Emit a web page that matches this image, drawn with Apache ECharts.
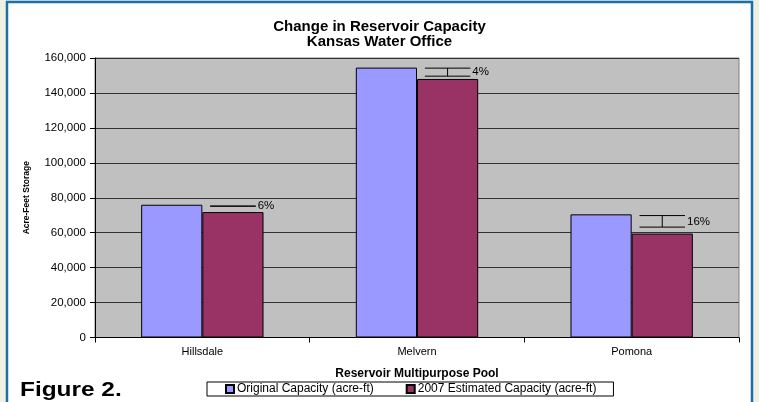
<!DOCTYPE html>
<html>
<head>
<meta charset="utf-8">
<script src="https://cdn.jsdelivr.net/npm/echarts@6/dist/echarts.min.js"></script>
<style>
html,body{margin:0;padding:0;background:#eef0e4;}
#chart{width:759px;height:402px;}
</style>
</head>
<body>
<div id="chart"></div>
<script>
const categories = ['Hillsdale', 'Melvern', 'Pomona'];
const originalCapacity = [76000, 154500, 70500];
const estimatedCapacity = [71800, 148000, 59500];
const changeTop = [75200, 154200, 69800];
const changeBottom = [75200, 149600, 63200];
const changeLabels = ['6%', '4%', '16%'];
const yTicks = { min: 0, max: 160000, interval: 20000 };

const FONT = '"Liberation Sans", Arial, sans-serif';
const chart = echarts.init(document.getElementById('chart'));

const changeData = categories.map((c, i) => [i, changeTop[i], changeBottom[i], changeLabels[i]]);

chart.setOption({
  backgroundColor: '#eef0e4',
  animation: false,
  graphic: [
    { type: 'rect', z: -10, shape: { x: 7, y: 2, width: 745, height: 430 },
      style: { fill: '#ffffff', stroke: '#1b6fa8', lineWidth: 2.5 } },
    { type: 'text', z: 10, x: 20, y: 390, scaleX: 1.22, originX: 0,
      style: { text: 'Figure 2.', font: 'bold 20px ' + FONT, fill: '#000', verticalAlign: 'middle', align: 'left' } }
  ],
  title: {
    text: 'Change in Reservoir Capacity\nKansas Water Office',
    left: 'center', top: 14,
    textStyle: { fontFamily: FONT, fontSize: 15, fontWeight: 'bold', color: '#000', lineHeight: 15 }
  },
  legend: {
    left: 207, top: 382,
    data: ['Original Capacity (acre-ft)', '2007 Estimated Capacity (acre-ft)'],
    itemWidth: 8, itemHeight: 8, itemGap: 32,
    padding: [1, 17, 1, 18],
    borderColor: '#000', borderWidth: 1, backgroundColor: '#fff',
    icon: 'rect',
    textStyle: { fontFamily: FONT, fontSize: 12, color: '#000', padding: [0, 0, 0, -2] }
  },
  grid: {
    left: 95, right: 20, top: 58, bottom: 64.5,
    show: true, backgroundColor: '#c0c0c0', borderColor: '#808080', borderWidth: 1
  },
  xAxis: {
    type: 'category', data: categories,
    axisLine: { lineStyle: { color: '#000', width: 1 } },
    axisTick: { show: true, length: 5, lineStyle: { color: '#000' } },
    axisLabel: { fontFamily: FONT, fontSize: 11, color: '#000', margin: 9 },
    name: 'Reservoir Multipurpose Pool', nameLocation: 'middle', nameGap: 30,
    nameTextStyle: { fontFamily: FONT, fontSize: 12, fontWeight: 'bold', color: '#000' }
  },
  yAxis: {
    type: 'value', min: yTicks.min, max: yTicks.max, interval: yTicks.interval,
    axisLine: { show: true, lineStyle: { color: '#000', width: 1 } },
    axisTick: { show: true, length: 5, lineStyle: { color: '#000' } },
    splitLine: { show: true, lineStyle: { color: '#333', width: 1 } },
    axisLabel: { fontFamily: FONT, fontSize: 11.5, color: '#000', margin: 9,
      formatter: v => v.toLocaleString('en-US') },
    name: 'Acre-Feet Storage', nameLocation: 'middle', nameGap: 64, nameRotate: 90,
    nameTextStyle: { fontFamily: FONT, fontSize: 8.5, fontWeight: 'bold', color: '#000' }
  },
  series: [
    { name: 'Original Capacity (acre-ft)', type: 'bar', data: originalCapacity,
      barGap: '0%', barCategoryGap: '43%',
      itemStyle: { color: '#9999ff', borderColor: '#000', borderWidth: 1 } },
    { name: '2007 Estimated Capacity (acre-ft)', type: 'bar', data: estimatedCapacity,
      barGap: '0%', barCategoryGap: '43%',
      itemStyle: { color: '#993366', borderColor: '#000', borderWidth: 1 } },
    { name: 'change', type: 'custom', data: changeData, z: 5,
      encode: { x: 0, y: [1, 2] },
      renderItem: function (params, api) {
        const top = api.coord([api.value(0), api.value(1)]);
        const bot = api.coord([api.value(0), api.value(2)]);
        const bw = api.size([1, 0])[0];
        const cx = top[0] + bw * 0.57 / 4;
        const hw = bw * 0.106;
        const ls = { stroke: '#000', lineWidth: 1 };
        return { type: 'group', children: [
          { type: 'line', shape: { x1: cx - hw, y1: top[1], x2: cx + hw, y2: top[1] }, style: ls },
          { type: 'line', shape: { x1: cx - hw, y1: bot[1], x2: cx + hw, y2: bot[1] }, style: ls },
          { type: 'line', shape: { x1: cx, y1: top[1], x2: cx, y2: bot[1] }, style: ls },
          { type: 'text', x: cx + hw + 2, y: (top[1] + bot[1]) / 2,
            style: { text: changeLabels[params.dataIndex], font: '11.5px ' + FONT, fill: '#000',
              verticalAlign: 'middle', align: 'left' } }
        ] };
      }
    }
  ]
});
</script>
</body>
</html>
